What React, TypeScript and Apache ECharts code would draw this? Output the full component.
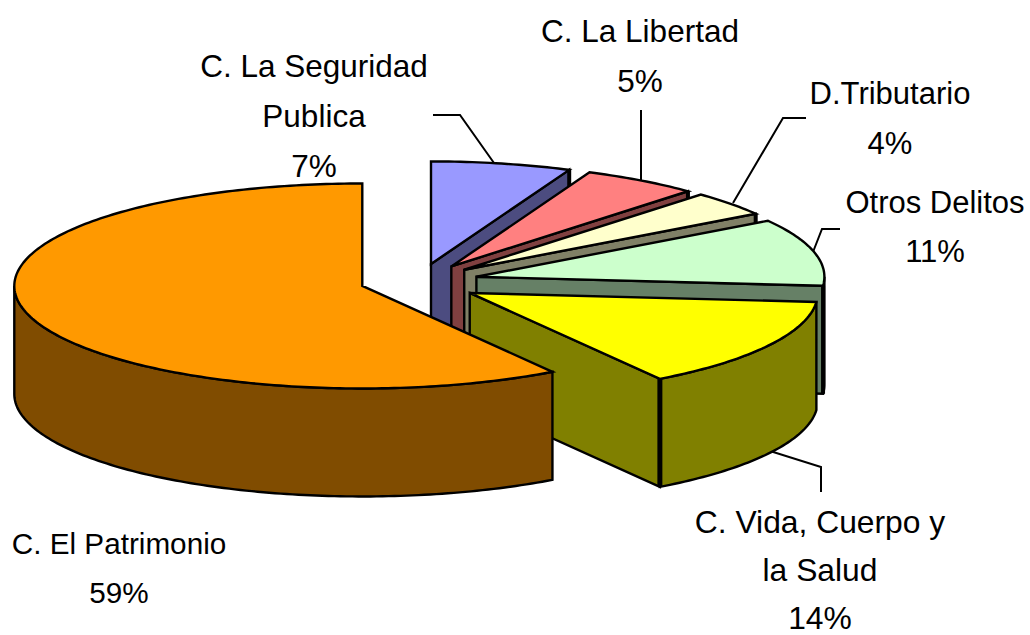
import React, { useEffect, useRef } from "react";
import * as echarts from "echarts";

// Back-to-front, clockwise from 12 o'clock
const categories = [
  "C. La Seguridad\nPublica",
  "C. La Libertad",
  "D.Tributario",
  "Otros Delitos",
  "C. Vida, Cuerpo y\nla Salud",
  "C. El Patrimonio",
];
const values = [6.5, 5.4, 3.9, 10.6, 14.4, 59.2];
const topColors = ["#9999FF", "#FF8080", "#FFFFCC", "#CCFFCC", "#FFFF00", "#FF9900"];
const wallColors = ["#4C4C80", "#804040", "#808066", "#668066", "#808000", "#804C00"];

// label centre of first line, line spacing and font size
const labelAnchors = [
  [314, 66],
  [640, 31],
  [890, 93],
  [935, 202],
  [820, 522],
  [119, 543],
];
const labelSpacing = [50, 49.5, 50, 49.5, 48, 49.5];
const labelFonts = [31.5, 31.5, 31, 31, 31.8, 29.7];
const leaders = [
  [[433, 115], [460, 115], [494, 163]],
  [[641, 110], [641, 183]],
  [[806, 118], [783, 118], [733, 203]],
  [[840, 229], [822, 229], [813, 252]],
  [[770, 451], [821, 467], [821, 492]],
];
const sliceNudgeY = [0, 0, 0, 0, 3, 0];

const CX = 419;
const CY = 281;
const RX = 348;
const RY = 102.5;
const DEPTH = 108;
const EXPLODE = 0.17;

const total = values.reduce((a, b) => a + b, 0);
const rad = (d: number) => (d * Math.PI) / 180;

function sliceAngles(i: number) {
  let s = 0;
  for (let k = 0; k < i; k++) s += values[k];
  const start = (s / total) * 360;
  return [start, start + (values[i] / total) * 360];
}

function arc(ax: number, ay: number, from: number, to: number, dy = 0) {
  const pts: number[][] = [];
  const n = Math.max(2, Math.ceil(Math.abs(to - from)));
  for (let j = 0; j <= n; j++) {
    const a = rad(from + ((to - from) * j) / n);
    pts.push([ax + RX * Math.sin(a), ay - RY * Math.cos(a) + dy]);
  }
  return pts;
}

function renderSlice(params: any, api: any) {
  const i = params.dataIndex;
  api.value(0);
  const [s, e] = sliceAngles(i);
  const mid = rad((s + e) / 2);
  const ax = CX + EXPLODE * RX * Math.sin(mid);
  const ay = CY - EXPLODE * RY * Math.cos(mid) + sliceNudgeY[i];
  const children: any[] = [];
  const wall = { fill: wallColors[i], stroke: "#000", lineWidth: 2.4, lineJoin: "miter" };

  const endA = rad(e);
  const tip = [ax + RX * Math.sin(endA), ay - RY * Math.cos(endA)];
  const endFacing = Math.sin(endA) > 1e-6;
  if (endFacing) {
    children.push({
      type: "polygon",
      silent: true,
      shape: { points: [[ax, ay], tip, [tip[0], tip[1] + DEPTH], [ax, ay + DEPTH]] },
      style: wall,
    });
  }
  const from = Math.max(s, 90);
  const to = Math.min(e, 270);
  if (to > from) {
    const upper = arc(ax, ay, from, to);
    const lower = arc(ax, ay, to, from, DEPTH);
    children.push({
      type: "polygon",
      silent: true,
      shape: { points: upper.concat(lower) },
      style: wall,
    });
  }
  if (endFacing) {
    children.push({
      type: "line",
      silent: true,
      shape: { x1: tip[0], y1: tip[1], x2: tip[0], y2: tip[1] + DEPTH },
      style: { stroke: "#000", lineWidth: i === 4 ? 5 : 4 },
    });
  }
  children.push({
    type: "polygon",
    silent: true,
    shape: { points: [[ax, ay] as number[]].concat(arc(ax, ay, s, e)) },
    style: { fill: topColors[i], stroke: "#000", lineWidth: 2.4, lineJoin: "miter" },
  });
  return { type: "group", children };
}

export default function App() {
  const ref = useRef<HTMLDivElement>(null);
  useEffect(() => {
    const chart = echarts.init(ref.current!, null, { renderer: "svg" });
    const graphics: any[] = [];
    categories.forEach((name, i) => {
      const lines = name.split("\n").concat(Math.round(values[i]) + "%");
      lines.forEach((t, j) => {
        graphics.push({
          type: "text",
          silent: true,
          x: labelAnchors[i][0],
          y: labelAnchors[i][1] + j * labelSpacing[i],
          style: {
            text: t,
            fill: "#000",
            font: `${labelFonts[i]}px "Liberation Sans", Arial, sans-serif`,
            textAlign: "center",
            textVerticalAlign: "middle",
          },
        });
      });
    });
    leaders.forEach((pts) => {
      graphics.push({
        type: "polyline",
        silent: true,
        shape: { points: pts },
        style: { stroke: "#000", lineWidth: 2, fill: "none" },
      });
    });
    chart.setOption({
      animation: false,
      backgroundColor: "#fff",
      graphic: { elements: graphics },
      series: [
        {
          type: "custom",
          coordinateSystem: "none",
          silent: true,
          data: values.map((v, i) => ({ name: categories[i], value: [v] })),
          renderItem: renderSlice,
        },
      ],
    });
    return () => chart.dispose();
  }, []);
  return <div ref={ref} style={{ position: "absolute", left: 0, top: 0, width: 1030, height: 635 }} />;
}
